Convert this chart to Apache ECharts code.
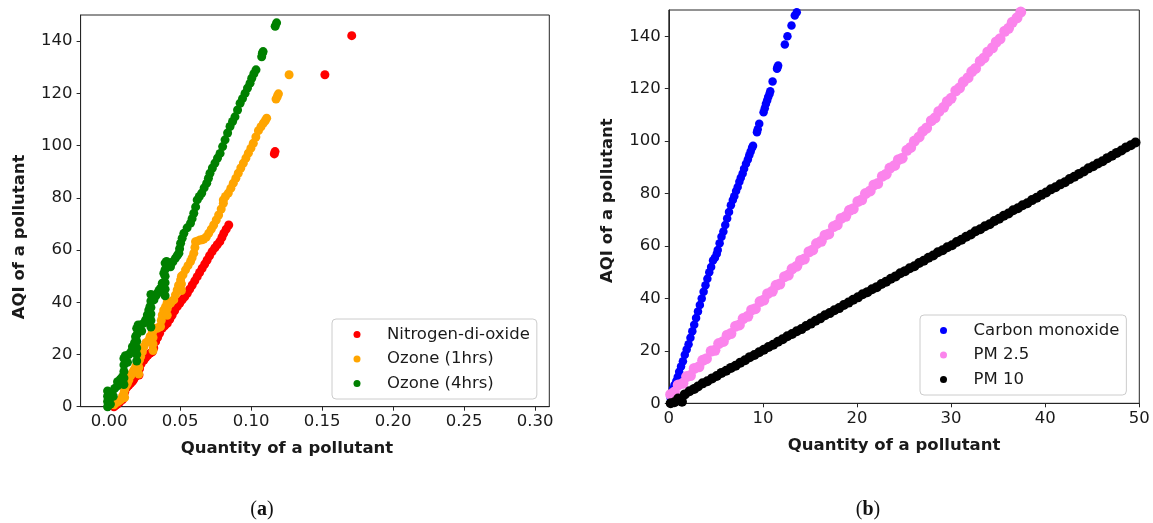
<!DOCTYPE html>
<html>
<head>
<meta charset="utf-8">
<script src="https://cdn.jsdelivr.net/npm/echarts/dist/echarts.min.js"></script>
<style>
  html, body { margin: 0; padding: 0; background: #ffffff; }
  #chart { width: 1153px; height: 523px; }
</style>
</head>
<body>
<div id="chart"></div>
<script>
// Panel (a): gaseous pollutants, [quantity (ppm), AQI]
const nitrogenDioxide = [
  [0.0035,0],[0.0047,0.5],[0.0059,1],[0.0075,1.8],[0.0094,2.6],[0.0105,3.8],[0.011,5.5],[0.012,7],
  [0.013,7.8],[0.014,8.3],[0.0152,9],[0.0164,9.6],[0.0175,10.5],[0.0187,11.5],[0.0211,12.1],[0.0215,14.5],
  [0.0225,16.3],[0.0246,17.9],[0.026,18.9],[0.0274,19.8],[0.029,20.5],[0.0305,21],[0.0315,22.5],[0.0328,24.9],
  [0.0342,26.5],[0.0356,28.1],[0.0375,30],[0.0392,31],[0.041,31.9],[0.0428,33.5],[0.0445,35.1],[0.0462,36.7],
  [0.048,38.3],[0.0498,39.6],[0.0515,40.9],[0.0533,42.1],[0.0551,43.4],[0.0568,45],[0.0586,46.6],[0.0604,48.2],
  [0.0621,49.8],[0.0638,51.4],[0.0656,53],[0.0674,54.6],[0.0691,56.2],[0.0708,57.8],[0.0726,59.4],[0.0745,60.8],
  [0.0762,62],[0.078,63.2],[0.0795,64.8],[0.0808,66.4],[0.0825,68],[0.0843,69.6],
  [0.1164,96.8],[0.1169,97.7],[0.152,127.1],[0.1709,142.1]
];
const ozone1h = [
  [0.0035,0.7],[0.005,1.5],[0.0065,2],[0.0082,2.6],[0.0095,4],[0.0105,5.1],[0.011,3.5],[0.011,6.5],
  [0.012,8],[0.013,9],[0.014,10.2],[0.0155,12],[0.0165,13],[0.0176,14.1],[0.0188,15.3],[0.0199,16.6],
  [0.021,12.5],[0.021,15],[0.021,17.5],[0.0215,18],[0.0223,19.2],[0.0235,21],[0.0246,23],[0.026,24.5],
  [0.0281,25.6],[0.029,27],[0.0305,28.7],[0.031,21.5],[0.031,24],[0.031,26.5],[0.031,29],[0.032,30],
  [0.034,30],[0.0355,30.5],[0.0363,30.7],[0.0368,33],[0.0375,35.1],[0.0385,37],[0.0398,38.3],[0.041,35],
  [0.041,37.5],[0.041,40],[0.0433,39.6],[0.0445,40.5],[0.0456,40.9],[0.0468,42.8],[0.048,44.7],[0.049,46.5],
  [0.0504,48.5],[0.051,44.5],[0.051,47],[0.051,50],[0.0521,50.5],[0.0539,52.4],[0.0556,54],[0.0574,55.6],
  [0.0585,57],[0.0597,58.8],[0.0605,61],[0.0609,63.2],[0.0625,63.5],[0.064,63.8],[0.0655,63.9],[0.0667,64.2],
  [0.0685,65],[0.0702,66.4],[0.072,68],[0.0737,69.6],[0.0755,71.5],[0.0772,73.4],[0.079,75.7],[0.0805,77.9],
  [0.0805,79.2],[0.082,80.5],[0.084,81.8],[0.0858,83.7],[0.0875,85.6],[0.0893,87.5],[0.091,89.4],[0.0928,91.4],
  [0.0946,93.3],[0.0964,95.2],[0.0981,97.1],[0.0999,99],[0.1016,100.9],[0.1034,103.3],[0.1052,105.7],[0.107,107.2],
  [0.1087,108.6],[0.11,109.5],[0.111,110.5],[0.1176,117.8],[0.1185,118.8],[0.1193,119.8],[0.1268,127.1]
];
const ozone4h = [
  [-0.001,0],[-0.001,2],[-0.001,4],[-0.001,6],[0.001,1],[0.001,3.5],[0.002,5.5],[0.003,4],
  [0.004,7],[0.006,8],[0.006,9.6],[0.008,10.5],[0.0095,11.5],[0.0105,8.5],[0.0105,11],[0.0105,13.5],
  [0.0105,16],[0.0105,18.5],[0.0115,19.5],[0.013,17],[0.014,20],[0.0155,21],[0.0165,23],[0.018,24.5],
  [0.0187,26.8],[0.0195,17.5],[0.0195,20],[0.0195,22.5],[0.0195,25],[0.0195,27.5],[0.0195,30],[0.0205,31.3],
  [0.0223,31.3],[0.023,29],[0.0245,32],[0.0258,33.2],[0.027,35.1],[0.028,37],[0.0288,38.3],[0.0295,30.5],
  [0.0295,33],[0.0295,35.5],[0.0295,38],[0.0295,40.5],[0.0295,43],[0.031,41.5],[0.0316,40.9],[0.033,42.5],
  [0.034,43.4],[0.0352,44.5],[0.0363,45.4],[0.0375,47.3],[0.0386,51.1],[0.0395,42.5],[0.0395,45],[0.0395,47.5],
  [0.0395,50],[0.0395,52.5],[0.0395,55],[0.0405,55.6],[0.042,54.5],[0.0433,53.6],[0.045,55.5],[0.0468,56.9],
  [0.0482,58],[0.0492,58.8],[0.0497,60.5],[0.0504,62.6],[0.0515,64.5],[0.0527,66.4],[0.055,68.5],[0.0574,70.3],
  [0.0585,72],[0.0597,74.1],[0.061,76.5],[0.0621,79.2],[0.0636,80.5],[0.0653,81.8],[0.067,83.8],[0.0688,85.6],
  [0.07,87.5],[0.0711,89.4],[0.0728,91.4],[0.0746,93.3],[0.0764,95.2],[0.0782,97],[0.08,99.6],[0.0817,102.2],
  [0.0835,104.8],[0.0852,107.3],[0.087,109.2],[0.0887,111],[0.0905,113.6],[0.0923,116.2],[0.094,118],[0.0958,120],
  [0.0975,122],[0.0993,123.9],[0.1005,125.8],[0.102,127.5],[0.1035,129],[0.1075,134],[0.108,135.4],[0.1085,136],
  [0.117,145.7],[0.118,147]
];

// Panel (b): CO and particulate matter, [quantity, AQI]
const carbonMonoxide = [
  [0.2,2],[0.3,4],[0.45,5.5],[0.6,7],[0.8,8.5],[0.95,10],[1.1,12],[1.3,14],[1.5,16],[1.7,18.5],
  [1.9,20.5],[2.1,22.5],[2.3,25],[2.5,27.5],[2.7,30],[2.9,32.5],[3.1,35],[3.3,37.5],[3.5,40],[3.7,42.5],
  [3.9,45],[4.1,47.5],[4.3,50],[4.5,52],[4.7,54.5],[4.9,55.5],[5.1,57],[5.2,58.5],[5.4,61],[5.6,63.5],
  [5.8,65.5],[6.0,68],[6.2,70.5],[6.4,73],[6.6,75.5],[6.8,77.5],[6.96,79],[7.15,81],[7.32,82.5],[7.5,84.5],
  [7.65,86],[7.85,87.6],[8.0,89.5],[8.2,91.4],[8.4,93],[8.55,94.6],[8.7,96],[8.85,97.5],[8.95,98.2],
  [9.37,103.4],[9.45,104.5],[9.61,106.6],[10.07,111],[10.2,112.5],[10.32,114.2],[10.45,115.5],[10.56,116.8],
  [10.7,118],[10.78,119],[11.03,122.7],[11.5,127.6],[11.55,128.2],[11.62,128.8],[12.33,136.8],[12.61,140],
  [13.04,144.1],[13.39,147.9],[13.6,149.1]
];
const pm25 = [
  [0.2,3.4],[0.6,4.3],[1.0,7.0],[1.5,7.6],[1.9,10.2],[2.3,10.6],[2.7,13.3],[3.2,13.9],[3.6,16.4],[4.0,17.0],
  [4.5,19.9],[4.9,20.2],[5.3,22.8],[5.8,23.6],[6.2,26.0],[6.6,26.6],[7.1,29.4],[7.5,29.9],[7.9,32.3],[8.4,33.2],
  [8.8,35.6],[9.2,36.1],[9.7,38.8],[10.1,39.4],[10.5,41.8],[11.0,42.7],[11.4,45.0],[11.8,45.5],[12.3,48.3],[12.7,48.9],
  [13.1,51.3],[13.6,52.3],[14.0,54.5],[14.4,55.0],[14.9,57.8],[15.3,58.5],[15.7,60.9],[16.2,61.8],[16.6,64.1],[17.0,64.6],
  [17.5,67.4],[17.9,68.1],[18.3,70.5],[18.8,71.3],[19.2,73.6],[19.6,74.2],[20.1,77.0],[20.5,77.6],[20.9,80.0],[21.4,81.0],
  [21.8,83.3],[22.2,83.8],[22.7,86.6],[23.1,87.4],[23.5,89.7],[24.0,90.7],[24.4,92.9],[24.8,93.5],[25.3,96.5],[25.7,97.6],
  [26.1,100.0],[26.6,101.6],[27.0,103.8],[27.4,105.0],[27.9,107.8],[28.3,108.9],[28.7,111.3],[29.2,112.9],[29.6,115.1],[30.0,116.3],
  [30.5,119.2],[30.9,120.3],[31.3,122.6],[31.8,124.2],[32.2,126.5],[32.6,127.7],[33.1,130.5],[33.5,131.7],[33.9,134.0],[34.4,135.6],
  [34.8,137.8],[35.2,139.0],[35.7,141.9],[36.1,143.0],[36.5,145.3],[37.0,147.0],[37.4,149.2],[37.8,150.4]
];
const pm10 = [
  [0.2,0],[0.6,0.4],[1.0,1.8],[1.4,0.6],[1.7,3.4],[2.2,4.6],[2.7,5.5],[3.1,6.4],[3.6,7.6],[4.1,8.4],
  [4.6,9.5],[5.1,10.4],[5.6,11.6],[6.1,12.4],[6.6,13.5],[7.1,14.3],[7.6,15.5],[8.1,16.4],[8.6,17.6],[9.1,18.4],
  [9.6,19.5],[10.1,20.4],[10.6,21.5],[11.1,22.3],[11.6,23.5],[12.1,24.4],[12.6,25.6],[13.1,26.4],[13.6,27.5],[14.1,28.3],
  [14.6,29.5],[15.1,30.4],[15.6,31.5],[16.1,32.4],[16.6,33.6],[17.1,34.4],[17.6,35.5],[18.1,36.3],[18.6,37.5],[19.1,38.4],
  [19.6,39.5],[20.1,40.4],[20.6,41.6],[21.1,42.4],[21.6,43.5],[22.1,44.3],[22.6,45.5],[23.1,46.4],[23.6,47.5],[24.1,48.4],
  [24.6,49.6],[25.1,50.4],[25.6,51.5],[26.1,52.3],[26.6,53.5],[27.1,54.4],[27.6,55.5],[28.1,56.4],[28.6,57.6],[29.1,58.4],
  [29.6,59.5],[30.1,60.3],[30.6,61.5],[31.1,62.4],[31.6,63.5],[32.1,64.4],[32.6,65.6],[33.1,66.4],[33.6,67.5],[34.1,68.3],
  [34.6,69.5],[35.1,70.4],[35.6,71.5],[36.1,72.4],[36.6,73.6],[37.1,74.4],[37.6,75.5],[38.1,76.3],[38.6,77.5],[39.1,78.4],
  [39.6,79.5],[40.1,80.4],[40.6,81.6],[41.1,82.4],[41.6,83.5],[42.1,84.3],[42.6,85.5],[43.1,86.4],[43.6,87.5],[44.1,88.4],
  [44.6,89.6],[45.1,90.4],[45.6,91.5],[46.1,92.3],[46.6,93.5],[47.1,94.4],[47.6,95.5],[48.1,96.4],[48.6,97.6],[49.1,98.4],
  [49.6,99.5],[50.1,100.4]
];

const namesA = ['Nitrogen-di-oxide', 'Ozone (1hrs)', 'Ozone (4hrs)'];
const namesB = ['Carbon monoxide', 'PM 2.5', 'PM 10'];
const xTicksA = [0, 0.05, 0.10, 0.15, 0.20, 0.25, 0.30];
const xTicksB = [0, 10, 20, 30, 40, 50];
const yTicks = [0, 20, 40, 60, 80, 100, 120, 140];
const xTitle = 'Quantity of a pollutant';
const yTitle = 'AQI of a pollutant';
const captions = ['a', 'b'];

const FONT = 'DejaVu Sans';
const INK = '#1a1a1a';
const FRAME = '#262626';
const SIZE = 16.5;

function xAxis(grid, min, max, ticks, digits, shift) {
  return {
    type: 'value', gridIndex: grid, min: min, max: max,
    splitLine: { show: false },
    axisLine: { show: true, onZero: false, lineStyle: { color: FRAME, width: 1 } },
    axisTick: { show: true, length: 4, customValues: ticks, lineStyle: { color: FRAME, width: 1 } },
    axisLabel: {
      customValues: ticks, margin: 7, color: INK, fontFamily: FONT, fontSize: SIZE,
      formatter: v => Number(v).toFixed(digits)
    },
    name: xTitle, nameLocation: 'middle', nameGap: 34,
    nameTextStyle: { fontFamily: FONT, fontSize: SIZE, fontWeight: 'bold', color: INK, padding: [0, shift, 0, 0] }
  };
}
function yAxis(grid, gap, pad) {
  return {
    type: 'value', gridIndex: grid, min: 0, max: 150,
    splitLine: { show: false },
    axisLine: { show: true, onZero: false, lineStyle: { color: FRAME, width: 1 } },
    axisTick: { show: true, length: 4, customValues: yTicks, lineStyle: { color: FRAME, width: 1 } },
    axisLabel: { customValues: yTicks, margin: 8, color: INK, fontFamily: FONT, fontSize: SIZE },
    name: yTitle, nameLocation: 'middle', nameGap: gap,
    nameTextStyle: { fontFamily: FONT, fontSize: SIZE, fontWeight: 'bold', color: INK, padding: pad }
  };
}
function dots(name, data, color, size, axis) {
  return {
    type: 'scatter', name: name, data: data, xAxisIndex: axis, yAxisIndex: axis,
    symbol: 'circle', symbolSize: size, silent: true,
    itemStyle: { color: color, opacity: 1 },
    emphasis: { disabled: true }
  };
}
function legendBox(names, left, top, padLeft) {
  return {
    data: names, orient: 'vertical', left: left, top: top,
    icon: 'circle', itemWidth: 7, itemHeight: 7, itemGap: 4.5,
    padding: [5.5, 7, 5.5, padLeft],
    backgroundColor: 'rgba(255,255,255,0.8)', borderColor: '#cccccc', borderWidth: 1, borderRadius: 4,
    selectedMode: false,
    textStyle: { fontFamily: FONT, fontSize: SIZE, color: INK, lineHeight: 20, padding: [0, 0, 0, 21.5] }
  };
}
function caption(letter, x) {
  return {
    type: 'text', x: x, y: 510, silent: true,
    style: {
      text: '{p|(}{b|' + letter + '}{p|)}', align: 'center', verticalAlign: 'middle',
      rich: {
        p: { fontFamily: 'Liberation Serif', fontSize: 20, fill: '#111' },
        b: { fontFamily: 'Liberation Serif', fontSize: 20, fontWeight: 'bold', fill: '#111' }
      }
    }
  };
}

const chart = echarts.init(document.getElementById('chart'), null, { renderer: 'canvas' });
chart.setOption({
  animation: false,
  backgroundColor: '#ffffff',
  grid: [
    { left: 80.6, top: 15, width: 468.7, height: 391.7, show: true, borderColor: FRAME, borderWidth: 1, backgroundColor: 'transparent' },
    { left: 668.8, top: 10, width: 470.5, height: 393.3, show: true, borderColor: FRAME, borderWidth: 1, backgroundColor: 'transparent' }
  ],
  xAxis: [ xAxis(0, -0.02, 0.31, xTicksA, 2, 56), xAxis(1, 0, 50, xTicksB, 0, 20) ],
  yAxis: [ yAxis(0, 52, [0, 52, 0, 0]), yAxis(1, 53, [0, 0, 0, 12]) ],
  legend: [ legendBox(namesA, 332, 319, 21.5), legendBox(namesB, 920, 315, 20) ],
  series: [
    dots(namesA[0], nitrogenDioxide, '#ff0000', 9, 0),
    dots(namesA[1], ozone1h, '#ffa500', 9, 0),
    dots(namesA[2], ozone4h, '#008000', 9, 0),
    dots(namesB[0], carbonMonoxide, '#0000ff', 8.5, 1),
    dots(namesB[1], pm25, '#fb84ec', 11, 1),
    dots(namesB[2], pm10, '#000000', 10, 1)
  ],
  graphic: [ caption(captions[0], 262), caption(captions[1], 868) ]
});
</script>
</body>
</html>
